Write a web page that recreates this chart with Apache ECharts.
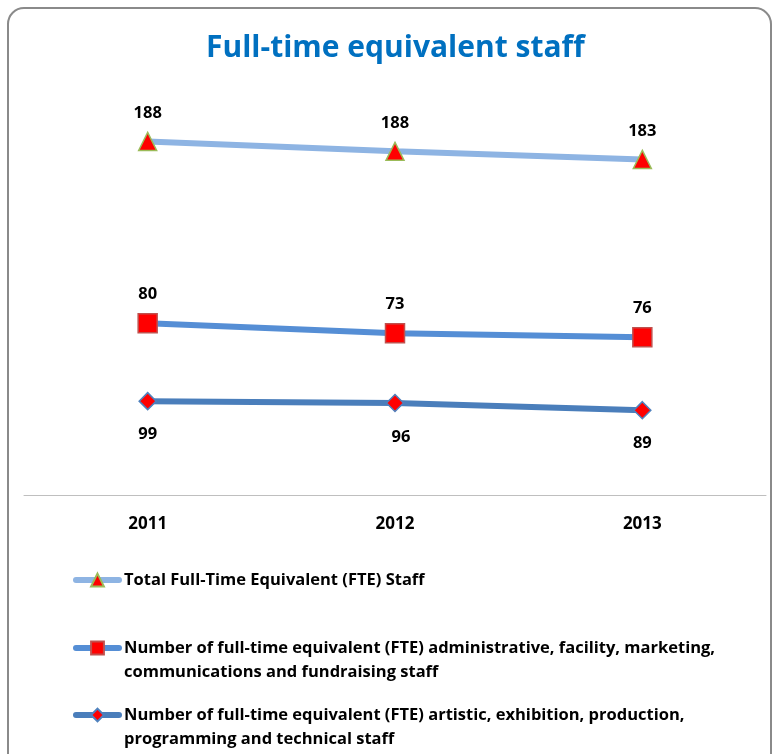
<!DOCTYPE html>
<html>
<head>
<meta charset="utf-8">
<script src="https://cdn.jsdelivr.net/npm/echarts@6/dist/echarts.min.js"></script>
<style>
  html, body { margin: 0; padding: 0; background: #fff; }
  #chart { width: 773px; height: 754px; }
</style>
</head>
<body>
<div id="chart"></div>
<script>
const years = ['2011', '2012', '2013']

// 图上标注的数值
const totalLabels = [188, 188, 183]
const adminLabels = [80, 73, 76]
const artisticLabels = [99, 96, 89]

// 原图各点的高度与标注不一致，这里按图上的位置读数（以 2011 总数 188 为刻度）
const totalLevels = [188, 182.7, 178.4]
const adminLevels = [91.3, 86.0, 83.9]
const artisticLevels = [49.9, 48.9, 45.1]

const totalName = 'Total Full-Time Equivalent (FTE) Staff'
const adminName = 'Number of full-time equivalent (FTE) administrative, facility, marketing,\ncommunications and fundraising staff'
const artisticName = 'Number of full-time equivalent (FTE) artistic, exhibition, production,\nprogramming and technical staff'

const font = "'Open Sans', 'Liberation Sans', sans-serif"

const labelStyle = {
  show: true,
  color: '#000',
  fontSize: 16.5,
  fontWeight: 'bold',
  fontFamily: font
}

const legendBase = {
  orient: 'vertical',
  left: 68,
  itemWidth: 43,
  itemHeight: 16,
  lineStyle: {width: 6, cap: 'round'},
  // 两行的图例：前面补一个空行，让图标对齐第一行
  formatter: name => name.indexOf('\n') > -1 ? ' \n' + name : name,
  textStyle: {
    color: '#000',
    fontSize: 16.5,
    fontWeight: 'bold',
    fontFamily: font,
    lineHeight: 24
  }
}

const myChart = echarts.init(document.getElementById('chart'))
const option = {
  animation: false,
  backgroundColor: '#fff',
  title: {
    text: 'Full-time equivalent staff',
    left: 201,
    top: 28,
    textStyle: {
      color: '#0070C0',
      fontSize: 30,
      fontWeight: 'bold',
      fontFamily: font
    }
  },
  graphic: [
    {
      type: 'rect',
      shape: {x: 8, y: 8, width: 763, height: 800, r: 16},
      style: {fill: 'none', stroke: '#8a8a8a', lineWidth: 2},
      silent: true
    }
  ],
  legend: [
    Object.assign({}, legendBase, {top: 563, data: [totalName]}),
    Object.assign({}, legendBase, {top: 607, data: [adminName]}),
    Object.assign({}, legendBase, {top: 674, data: [artisticName]})
  ],
  grid: {
    left: 24,
    right: 7,
    top: 100,
    bottom: 259
  },
  xAxis: {
    type: 'category',
    data: years,
    boundaryGap: true,
    axisTick: {show: false},
    axisLine: {lineStyle: {color: '#BFBFBF', width: 1}},
    axisLabel: {
      color: '#000',
      fontSize: 17,
      fontWeight: 'bold',
      fontFamily: font,
      margin: 21
    }
  },
  yAxis: {
    type: 'value',
    min: 0,
    max: 210,
    show: false,
    splitLine: {show: false}
  },
  series: [
    {
      name: totalName,
      type: 'line',
      data: totalLevels,
      symbol: 'triangle',
      symbolSize: 18,
      lineStyle: {color: '#8EB4E3', width: 6},
      itemStyle: {color: '#FF0000', borderColor: '#9BBB59', borderWidth: 1.5},
      label: Object.assign({}, labelStyle, {
        position: 'top',
        distance: 10,
        formatter: p => totalLabels[p.dataIndex]
      }),
      z: 3
    },
    {
      name: adminName,
      type: 'line',
      data: adminLevels,
      symbol: 'rect',
      symbolSize: 19,
      lineStyle: {color: '#558ED5', width: 6},
      itemStyle: {color: '#FF0000', borderColor: '#C0504D', borderWidth: 1.5},
      label: Object.assign({}, labelStyle, {
        position: 'top',
        distance: 10,
        formatter: p => adminLabels[p.dataIndex]
      }),
      z: 3
    },
    {
      name: artisticName,
      type: 'line',
      // 2012 的标签在原图里稍微偏右
      data: artisticLevels.map((v, i) => i === 1 ? {value: v, label: {offset: [6, 2]}} : v),
      symbol: 'diamond',
      symbolSize: 17,
      lineStyle: {color: '#4A7EBB', width: 6},
      itemStyle: {color: '#FF0000', borderColor: '#4F81BD', borderWidth: 1.5},
      label: Object.assign({}, labelStyle, {
        position: 'bottom',
        distance: 15,
        formatter: p => artisticLabels[p.dataIndex]
      }),
      z: 3
    }
  ]
}
myChart.setOption(option)
window.addEventListener('resize', function () {
  if (myChart) myChart.resize()
})
</script>
</body>
</html>
